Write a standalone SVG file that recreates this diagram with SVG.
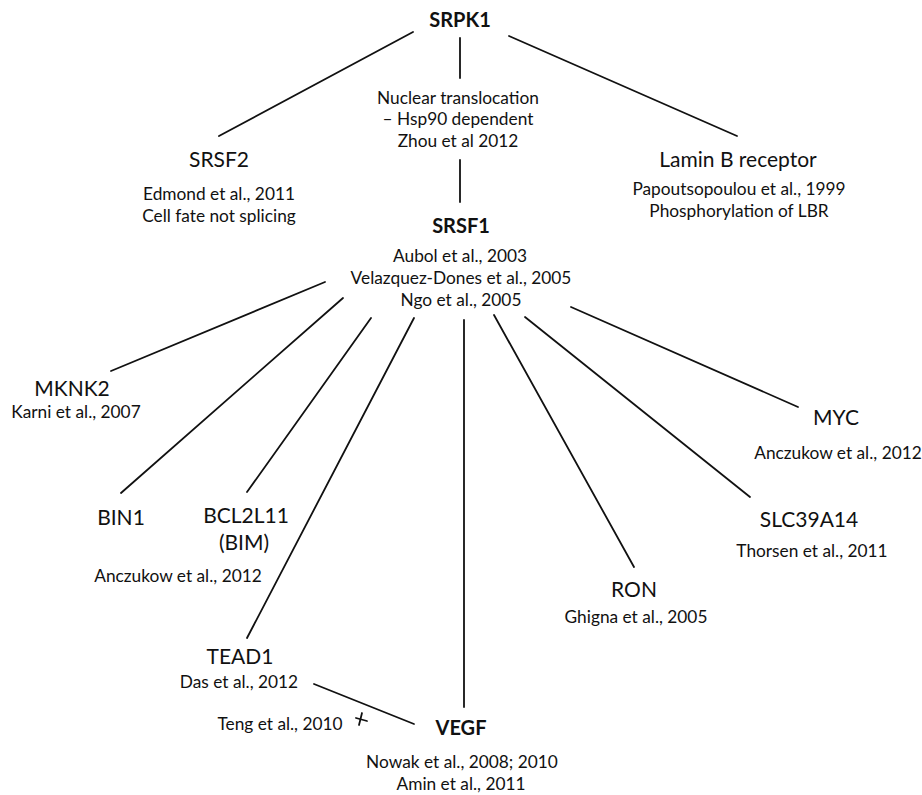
<svg xmlns="http://www.w3.org/2000/svg" width="922" height="795" viewBox="0 0 922 795">
<style>
text{font-family:Lato,"Open Sans","Liberation Sans",sans-serif;fill:#111;text-anchor:middle}
.lbl{font-size:21px}
.b{font-size:20px;font-weight:bold}
.cit{font-size:17.3px}
.edge{stroke:#111;stroke-width:1.8;fill:none;stroke-linecap:round}
</style>
<rect width="922" height="795" fill="#fff"/>
<g id="connectors">
<line class="edge" x1="413" y1="32" x2="219" y2="136"/>
<line class="edge" x1="460" y1="38" x2="460" y2="78"/>
<line class="edge" x1="509" y1="36" x2="737" y2="136"/>
<line class="edge" x1="460" y1="160" x2="460" y2="202"/>
<line class="edge" x1="325" y1="282" x2="111" y2="371"/>
<line class="edge" x1="343" y1="298" x2="121" y2="493"/>
<line class="edge" x1="371" y1="318" x2="247" y2="492"/>
<line class="edge" x1="414" y1="318" x2="247" y2="638"/>
<line class="edge" x1="464" y1="320" x2="464" y2="707"/>
<line class="edge" x1="494" y1="315" x2="634" y2="567"/>
<line class="edge" x1="525" y1="317" x2="750" y2="497"/>
<line class="edge" x1="571" y1="307" x2="798" y2="407"/>
<line class="edge" x1="314" y1="684" x2="414" y2="724"/>
<line class="edge" x1="356" y1="718" x2="367" y2="721"/>
<line class="edge" x1="362" y1="713" x2="359" y2="725"/>
</g>
<g id="SRPK1"><text class="b" x="460" y="27">SRPK1</text></g>
<g id="translocation">
<text class="cit" x="458" y="104">Nuclear translocation</text>
<text class="cit" x="458" y="125">– Hsp90 dependent</text>
<text class="cit" x="458" y="147">Zhou et al 2012</text>
</g>
<g id="SRSF2">
<text class="lbl" x="219" y="167">SRSF2</text>
<text class="cit" x="219" y="200">Edmond et al., 2011</text>
<text class="cit" x="219" y="222">Cell fate not splicing</text>
</g>
<g id="LaminB">
<text class="lbl" x="738" y="167">Lamin B receptor</text>
<text class="cit" x="739" y="195">Papoutsopoulou et al., 1999</text>
<text class="cit" x="739" y="217">Phosphorylation of LBR</text>
</g>
<g id="SRSF1">
<text class="b" x="461" y="233">SRSF1</text>
<text class="cit" x="460" y="262">Aubol et al., 2003</text>
<text class="cit" x="461" y="284">Velazquez-Dones et al., 2005</text>
<text class="cit" x="461" y="306">Ngo et al., 2005</text>
</g>
<g id="MKNK2">
<text class="lbl" x="72" y="396">MKNK2</text>
<text class="cit" x="76" y="418">Karni et al., 2007</text>
</g>
<g id="BIN1"><text class="lbl" x="121" y="525">BIN1</text></g>
<g id="BCL2L11">
<text class="lbl" x="246" y="523">BCL2L11</text>
<text class="lbl" x="244" y="550">(BIM)</text>
<text class="cit" x="178" y="582">Anczukow et al., 2012</text>
</g>
<g id="MYC">
<text class="lbl" x="836" y="425">MYC</text>
<text class="cit" x="838" y="459">Anczukow et al., 2012</text>
</g>
<g id="SLC39A14">
<text class="lbl" x="809" y="527">SLC39A14</text>
<text class="cit" x="812" y="557">Thorsen et al., 2011</text>
</g>
<g id="RON">
<text class="lbl" x="634" y="597">RON</text>
<text class="cit" x="636" y="623">Ghigna et al., 2005</text>
</g>
<g id="TEAD1">
<text class="lbl" x="240" y="664">TEAD1</text>
<text class="cit" x="239" y="688">Das et al., 2012</text>
</g>
<g id="Teng"><text class="cit" x="280" y="730">Teng et al., 2010</text></g>
<g id="VEGF">
<text class="b" x="461" y="735">VEGF</text>
<text class="cit" x="462" y="768">Nowak et al., 2008; 2010</text>
<text class="cit" x="461" y="790">Amin et al., 2011</text>
</g>
</svg>
